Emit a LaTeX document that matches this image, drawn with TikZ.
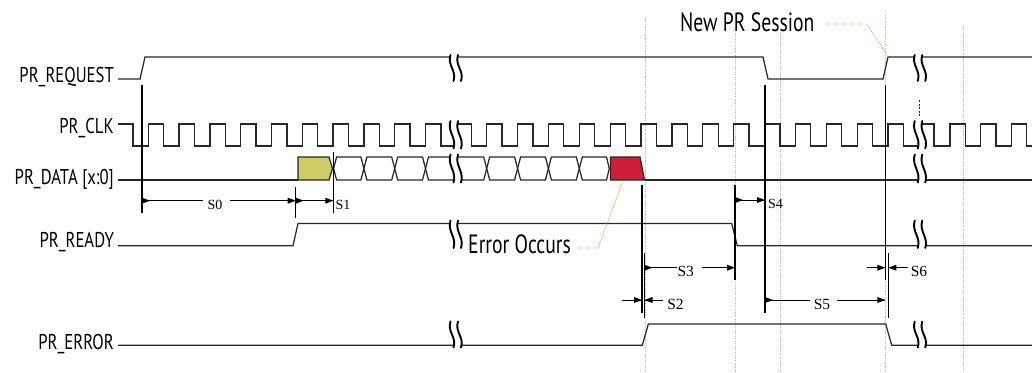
\documentclass[tikz,border=0pt]{standalone}
\usepackage{fontspec}
\setmainfont{Liberation Serif}
\newfontfamily\condfont[FakeStretch=0.78]{PT Sans}
\newfontfamily\callfont[FakeStretch=0.745]{PT Sans}
\definecolor{sigc}{RGB}{40,40,40}
\definecolor{dotgray}{RGB}{190,190,190}
\definecolor{calloutc}{RGB}{247,160,80}
\definecolor{yel}{RGB}{205,204,102}
\definecolor{errred}{RGB}{206,30,56}
\newcommand\brkmark[3]{%
  \pgfmathsetmacro\brkL{#3-#2}%
  \pgfmathsetmacro\brkA{#2+0.4*\brkL}%
  \pgfmathsetmacro\brkB{#2+0.6*\brkL}%
  \fill[white] ({#1-5.25},#2) .. controls ({#1-8.75},\brkA) and ({#1+1.25},\brkB) .. ({#1-2.25},#3) -- ({#1+5.25},#3) .. controls ({#1+8.75},\brkB) and ({#1-1.25},\brkA) .. ({#1+2.25},#2) -- cycle;
  \draw[brk] ({#1-5.25},#2) .. controls ({#1-8.75},\brkA) and ({#1+1.25},\brkB) .. ({#1-2.25},#3);
  \draw[brk] ({#1+2.25},#2) .. controls ({#1-1.25},\brkA) and ({#1+8.75},\brkB) .. ({#1+5.25},#3);
}
\newcommand\tipR[2]{\fill (#1-8,#2-3) -- (#1,#2) -- (#1-8,#2+3) -- cycle;}
\newcommand\tipL[2]{\fill (#1+8,#2-3) -- (#1,#2) -- (#1+8,#2+3) -- cycle;}
\begin{document}
\begin{tikzpicture}[x=1pt,y=-1pt,
  sig/.style={line width=1.25pt, draw=sigc, line join=miter},
  brk/.style={line width=1.9pt, draw=black, line cap=round},
  vmark/.style={line width=1.1pt, draw=black},
  guide/.style={line width=0.9pt, draw=dotgray, dash pattern=on 1pt off 1.2pt},
  calloutline/.style={line width=0.9pt, draw=calloutc, dash pattern=on 1pt off 1pt},
  dim/.style={line width=0.9pt, draw=black},
  siglabel/.style={font=\condfont\fontsize{21.4}{24}\selectfont, anchor=base east, inner sep=0pt},
  calltext/.style={font=\callfont\fontsize{26.4}{30}\selectfont, anchor=base west, inner sep=0pt},
  tlabel/.style={font=\fontsize{14}{16}\selectfont, inner sep=0pt},
  tlabelb/.style={font=\fontsize{15.5}{18}\selectfont, inner sep=0pt},
]
\useasboundingbox (0,0) rectangle (1032,372);

% dotted guides
\foreach \gx/\gy in {645/17,735/15,780/32,885/15,963/25}
  \draw[guide] (\gx,\gy) -- (\gx,372);

% signal labels
\node[siglabel] (lreq) at (114,82) {PR\_REQUEST};
\node[siglabel] (lclk) at (114,133) {PR\_CLK};
\node[siglabel] (ldata) at (114,184) {PR\_DATA [x:0]};
\node[siglabel] (lready) at (114,247.5) {PR\_READY};
\node[siglabel] (lerror) at (114,349.5) {PR\_ERROR};

% PR_REQUEST
\draw[sig] (118,79) -- (140,79) -- (145,57) -- (763,57) -- (768,79) -- (883,79) -- (888,57) -- (1032,57);

% PR_CLK
\draw[sig] (118,124) -- (133,124) -- (133,146)
  \foreach \k in {0,...,9}{ -- ({148.3+30.8*\k},146) -- ({148.3+30.8*\k},124) -- ({163.7+30.8*\k},124) -- ({163.7+30.8*\k},146)}
  -- (455.75,146) -- (455.75,124) -- (471.5,124) -- (471.5,146)
  \foreach \k in {0,...,13}{ -- ({486.7+30.87*\k},146) -- ({486.7+30.87*\k},124) -- ({502.1+30.87*\k},124) -- ({502.1+30.87*\k},146)}
  -- (920,146) -- (920,124) -- (934,124) -- (934,146)
  \foreach \k in {0,1,2}{ -- ({950+30.6*\k},146) -- ({950+30.6*\k},124) -- ({965.3+30.6*\k},124) -- ({965.3+30.6*\k},146)}
  -- (1032,146);

% PR_DATA
\draw[sig] (118,180) -- (298,180);
\draw[sig, fill=yel] (298,180) -- (298,157) -- (329,157) -- (332.5,168.5) -- (329,180) -- cycle;
\foreach \a/\b in {333.6/363.9, 363.9/394.7, 394.7/425.5, 425.5/486.7, 486.7/517.6, 517.6/548.4, 548.4/579.3}
  \draw[sig] (\a,168.5) -- (\a+3,157) -- (\b-3,157) -- (\b,168.5) -- (\b-3,180) -- (\a+3,180) -- cycle;
\draw[sig] (579.3,168.5) -- (582.3,157) -- (606.5,157) -- (609.3,168.5) -- (606.5,180) -- (582.3,180) -- cycle;
\draw[sig, fill=errred] (610.5,180) -- (610.5,157) -- (640,157) -- (644.5,180) -- cycle;
\draw[sig] (644.5,180) -- (1032,180);

% PR_READY
\draw[sig] (118,245.7) -- (293,245.7) -- (298,223.5) -- (731.7,223.5) -- (737.3,245.7) -- (1032,245.7);

% PR_ERROR
\draw[sig] (118,345.3) -- (642.3,345.3) -- (648.3,324) -- (885.7,324) -- (891.7,345.3) -- (1032,345.3);

% breaks
\foreach \t/\b in {55/81, 121/148.5, 154.5/182.5, 220.5/248, 321.5/347.5}{
  \brkmark{455.75}{\t}{\b}
  \brkmark{920}{\t}{\b}
}
\draw[line width=1pt, draw=sigc, dash pattern=on 2pt off 1.5pt] (919,100) -- (919,117);

% vertical markers
\draw[vmark] (142,85) -- (142,213);
\draw[vmark] (295.7,187) -- (295.7,218);
\draw[vmark] (333.3,152) -- (333.3,213);
\draw[vmark] (642,185) -- (642,313);
\draw[vmark] (644.5,253) -- (644.5,318);
\draw[vmark] (735,185) -- (735,280);
\draw[vmark] (765,85) -- (765,313);
\draw[vmark] (885.3,85) -- (885.3,280);
\draw[vmark] (888.3,253) -- (888.3,318);

% dimension arrows
\draw[dim] (142,200.7) -- (203,200.7);
\draw[dim] (230,200.7) -- (295.7,200.7);
\tipR{150}{200.7} \tipR{295.7}{200.7}
\node[tlabel] (s0) at (215,204.5) {S0};
\draw[dim] (295.7,200.7) -- (333.3,200.7);
\tipR{303.7}{200.7} \tipR{333.3}{200.7}
\node[tlabel] (s1) at (343,204.5) {S1};

\draw[dim] (735,200) -- (765,200);
\tipR{743}{200} \tipR{765}{200}
\node[tlabel] (s4) at (775.5,204) {S4};

\draw[dim] (644.5,267.7) -- (677,267.7);
\draw[dim] (702,267.7) -- (735,267.7);
\tipR{652.5}{267.7} \tipR{735}{267.7}
\node[tlabelb] (s3) at (685.7,271) {S3};

\draw[dim] (621.7,300) -- (642,300);
\draw[dim] (663,300) -- (644.5,300);
\tipR{642}{300} \tipL{644.5}{300}
\node[tlabelb] (s2) at (675.5,304) {S2};

\draw[dim] (765,300) -- (810,300);
\draw[dim] (837,300) -- (885.3,300);
\tipR{773}{300} \tipR{885.3}{300}
\node[tlabelb] (s5) at (822,304) {S5};

\draw[dim] (866.7,267.7) -- (885.3,267.7);
\draw[dim] (908,267.7) -- (888.3,267.7);
\tipR{885.3}{267.7} \tipL{888.3}{267.7}
\node[tlabelb] (s6) at (919,271) {S6};

% callouts
\node[calltext] (newpr) at (680,31) {New PR Session};
\node[calltext] (errocc) at (468,253.3) {Error Occurs};
\coordinate (npA) at (825,24);
\coordinate (npB) at (866.7,24);
\coordinate (npC) at (888,56.5);
\draw[calloutline] (npA) -- (npB) -- (npC);
\coordinate (eoA) at (577,248);
\coordinate (eoB) at (598,248);
\coordinate (eoC) at (623,181);
\draw[calloutline] (eoA) -- (eoB) -- (eoC);
\end{tikzpicture}
\end{document}
